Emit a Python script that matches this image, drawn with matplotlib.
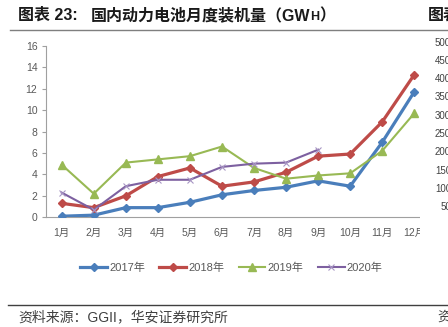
import matplotlib
matplotlib.use('Agg')
import matplotlib.pyplot as plt
from matplotlib.patches import Rectangle
from matplotlib.lines import Line2D

plt.rcParams['font.family'] = ['Liberation Sans', 'Noto Sans CJK SC', 'DejaVu Sans']

# data (GWh)
months = ['1月', '2月', '3月', '4月', '5月', '6月', '7月', '8月', '9月', '10月', '11月', '12月']
y2017 = [0.1, 0.2, 0.9, 0.9, 1.4, 2.1, 2.5, 2.8, 3.4, 2.9, 7.0, 11.7]
y2018 = [1.3, 0.9, 2.0, 3.8, 4.6, 2.9, 3.3, 4.2, 5.7, 5.9, 8.9, 13.3]
y2019 = [4.9, 2.2, 5.1, 5.4, 5.7, 6.6, 4.6, 3.6, 3.9, 4.1, 6.2, 9.7]
y2020 = [2.3, 0.7, 2.9, 3.5, 3.5, 4.7, 5.0, 5.1, 6.3]
y_ticks = [0, 2, 4, 6, 8, 10, 12, 14, 16]
series_names = ['2017年', '2018年', '2019年', '2020年']

# neighbouring chart on the page (only its axis labels are visible)
right_ticks = [500, 450, 400, 350, 300, 250, 200, 150, 100, 50]

W, H = 448, 327
fig = plt.figure(figsize=(W / 100, H / 100), dpi=100)
fig.patch.set_facecolor('white')

def fx(px):
    return px / W

def fy(py):
    return 1 - py / H

# plot area: category centres 1月 -> x=61.7, 12月 -> x=414; 0 -> y=217.3, 16 -> y=45.7
ax = fig.add_axes([fx(45.7), fy(217.3), fx(430.3) - fx(45.7), fy(45.7) - fy(217.3)])
x = list(range(len(months)))

ax.plot(x, y2017, color='#4A7EBB', lw=2.3, marker='D', ms=4, mfc='#4A7EBB', mec='#4A7EBB',
        solid_joinstyle='round', label=series_names[0], zorder=3)
ax.plot(x, y2018, color='#BE4B48', lw=2.3, marker='D', ms=4, mfc='#BE4B48', mec='#BE4B48',
        solid_joinstyle='round', label=series_names[1], zorder=3)
ax.plot(x, y2019, color='#98B954', lw=1.5, marker='^', ms=5.5, mfc='#98B954', mec='#98B954',
        solid_joinstyle='round', label=series_names[2], zorder=3)
ax.plot(x[:len(y2020)], y2020, color='#7D60A0', lw=1.5, marker='x', ms=5, mew=0.8,
        mec='#A896C4', solid_joinstyle='round', label=series_names[3], zorder=3)

ax.set_xlim(-0.5, len(months) - 0.5)
ax.set_ylim(0, 16)
ax.set_yticks(y_ticks)
ax.set_xticks(x)
ax.set_xticklabels(months)
for s in ['top', 'right']:
    ax.spines[s].set_visible(False)
for s in ['left', 'bottom']:
    ax.spines[s].set_color('#A0A0A0')
    ax.spines[s].set_linewidth(0.8)
ax.tick_params(axis='y', direction='out', length=3, width=0.8, color='#A0A0A0',
               labelsize=7.5, labelcolor='#595959', pad=3)
ax.tick_params(axis='x', length=0, labelsize=7.5, labelcolor='#595959', pad=8)
ax.set_facecolor('white')

handles, labels = ax.get_legend_handles_labels()
fig.legend(handles, labels, loc='center', bbox_to_anchor=(fx(231.5), fy(268)), ncol=4,
           frameon=False, fontsize=8, labelcolor='#595959', handlelength=2.4,
           handletextpad=0.2, columnspacing=1.3)

# title (the H of GWH is set as a small capital), then rules and source
renderer = fig.canvas.get_renderer()
title_kw = dict(fontweight='bold', color='#1A1A1A', va='baseline')
base = fy(20)
fig.text(fx(18), base, '图表 23:', fontsize=11.5, ha='left', **title_kw)
t1 = fig.text(fx(91), base, '国内动力电池月度装机量（GW', fontsize=11.5, ha='left', **title_kw)
x_end = t1.get_window_extent(renderer).x1
t2 = fig.text(x_end / W, base, 'H', fontsize=9, ha='left', **title_kw)
x_end = t2.get_window_extent(renderer).x1
fig.text(x_end / W, base, '）', fontsize=11.5, ha='left', **title_kw)

fig.add_artist(Line2D([fx(10), 1], [fy(29.5), fy(29.5)], color='#7F7F7F', lw=1.0))
fig.add_artist(Line2D([fx(8), 1], [fy(305), fy(305)], color='#404040', lw=1.0))
fig.text(fx(18), fy(317), '资料来源：GGII，华安证券研究所', fontsize=10, color='#404040',
         ha='left', va='center')

# the next chart on the page covers the right edge
fig.add_artist(Rectangle((fx(420), fy(300)), 1 - fx(420), fy(35) - fy(300),
                         transform=fig.transFigure, facecolor='white', edgecolor='none',
                         zorder=5))
fig.text(fx(428), base, '图表', fontsize=11.5, fontweight='bold', color='#1A1A1A',
         ha='left', va='baseline', zorder=6)
for i, v in enumerate(right_ticks):
    fig.text(fx(451), fy(42.5 + i * 18.3), str(v), fontsize=7, color='#404040',
             ha='right', va='center', zorder=6)
fig.text(fx(437), fy(317), '资', fontsize=10, color='#404040', ha='left', va='center', zorder=6)

fig.savefig('out.png', dpi=100, facecolor='white')
